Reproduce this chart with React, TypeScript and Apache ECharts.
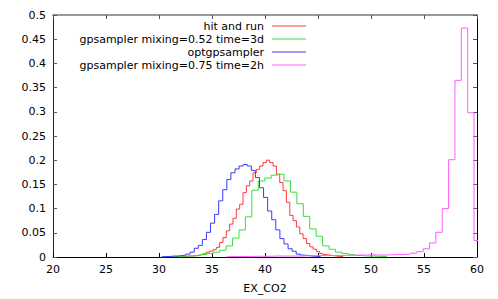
import React, { useEffect, useRef } from "react";
import * as echarts from "echarts";

const seriesNames = [
  "hit and run",
  "gpsampler mixing=0.52 time=3d",
  "optgpsampler",
  "gpsampler mixing=0.75 time=2h",
];
const seriesColors = ["#ff3a3a", "#3ade3a", "#3a3aff", "#ff5cff"];

const xName = "EX_CO2";
const xMin = 20;
const xMax = 60;
const xInterval = 5;
const yMin = 0;
const yMax = 0.5;
const yInterval = 0.05;

// hit and run: histogram bins (start, width, values)
const hitStart = 31.94;
const hitWidth = 0.315;
const hitValues = [
  0.001, 0.001, 0.002, 0.002, 0.003, 0.004, 0.005, 0.007,
  0.010, 0.012, 0.015, 0.020, 0.030, 0.040, 0.054, 0.068, 0.080, 0.099,
  0.109, 0.133, 0.147, 0.157, 0.174, 0.181, 0.188, 0.195, 0.200, 0.195,
  0.188, 0.171, 0.154, 0.137, 0.113, 0.086, 0.075, 0.062, 0.048, 0.038,
  0.028, 0.021, 0.016, 0.011, 0.007, 0.005, 0.004, 0.003, 0.002, 0.001, 0.001,
];

// gpsampler mixing=0.52 time=3d
const gp52Start = 30.259;
const gp52Width = 0.607;
const gp52Values = [
  0.001, 0.001, 0.001, 0.002, 0.002, 0.003, 0.005, 0.007, 0.010, 0.014,
  0.023, 0.039, 0.056,
  0.083, 0.138, 0.157, 0.163, 0.169, 0.171, 0.157, 0.134, 0.110, 0.084,
  0.058, 0.043, 0.023, 0.016, 0.010, 0.007, 0.005, 0.003, 0.002, 0.002, 0.001, 0.001,
];

// optgpsampler
const optStart = 30.24;
const optWidth = 0.385;
const optValues = [
  0.001, 0.001, 0.002, 0.002, 0.003, 0.004, 0.006, 0.010, 0.018, 0.024,
  0.036, 0.051, 0.070, 0.088, 0.116, 0.139, 0.160, 0.174, 0.182, 0.188,
  0.191, 0.188, 0.179, 0.164, 0.143, 0.123, 0.095, 0.077, 0.056, 0.038,
  0.027, 0.017, 0.012, 0.006, 0.004, 0.003, 0.002, 0.001, 0.001,
];

// gpsampler mixing=0.75 time=2h
const gp75Start = 36.32;
const gp75Width = 0.6;
const gp75Values = [
  0.001, 0.001, 0.001, 0.001, 0.0015, 0.0015, 0.0015, 0.002, 0.002, 0.002,
  0.002, 0.002, 0.0025, 0.0025, 0.003, 0.003, 0.003, 0.003, 0.0035, 0.0035,
  0.004, 0.004, 0.0045, 0.004, 0.004, 0.0045, 0.005, 0.005, 0.006, 0.008,
  0.011, 0.017, 0.029, 0.051, 0.100, 0.201, 0.365, 0.473, 0.298, 0.034,
];

const histograms = [
  { start: hitStart, width: hitWidth, values: hitValues },
  { start: gp52Start, width: gp52Width, values: gp52Values },
  { start: optStart, width: optWidth, values: optValues },
  { start: gp75Start, width: gp75Width, values: gp75Values },
];

function stepPoints(start: number, width: number, values: number[]) {
  const pts: number[][] = [[start, 0]];
  values.forEach((v, i) => {
    pts.push([start + i * width, v]);
    pts.push([start + (i + 1) * width, v]);
  });
  pts.push([start + values.length * width, 0]);
  return pts;
}

const FONT = '"DejaVu Sans", sans-serif';

export default function App() {
  const ref = useRef<HTMLDivElement>(null);
  useEffect(() => {
    if (!ref.current) return;
    const chart = echarts.init(ref.current, undefined, { renderer: "svg" });
    const gridLeft = 53;
    const gridTop = 15;
    const legendRight = 264;
    const legendTop = 26;
    const legendStep = 13;
    const graphic: any[] = [];
    seriesNames.forEach((name, i) => {
      const y = legendTop + i * legendStep;
      graphic.push({
        type: "text",
        x: legendRight,
        y,
        style: {
          text: name,
          fill: "#000",
          font: `11px ${FONT}`,
          textAlign: "right",
          textVerticalAlign: "middle",
        },
      });
      graphic.push({
        type: "line",
        shape: { x1: 272, y1: y, x2: 306, y2: y },
        style: { stroke: seriesColors[i], lineWidth: 1 },
      });
    });
    const tickStyle = { color: "#000", width: 1 };
    chart.setOption({
      animation: false,
      backgroundColor: "#fff",
      grid: { left: gridLeft, right: 21, top: gridTop, bottom: 41, containLabel: false },
      xAxis: [
        {
          type: "value",
          min: xMin,
          max: xMax,
          interval: xInterval,
          position: "bottom",
          name: xName,
          nameLocation: "middle",
          nameGap: 26,
          nameTextStyle: { color: "#000", fontSize: 11, fontFamily: FONT },
          axisLine: { onZero: false, lineStyle: { color: "#000", width: 1 } },
          axisTick: { inside: true, length: 4, lineStyle: tickStyle },
          axisLabel: { color: "#000", fontSize: 11, fontFamily: FONT, margin: 7 },
          splitLine: { show: false },
        },
        {
          type: "value",
          min: xMin,
          max: xMax,
          interval: xInterval,
          position: "top",
          axisLine: { onZero: false, lineStyle: { color: "#999", width: 2 } },
          axisTick: { inside: true, length: 4, lineStyle: { color: "#555", width: 1 } },
          axisLabel: { show: false },
          splitLine: { show: false },
        },
      ],
      yAxis: [
        {
          type: "value",
          min: yMin,
          max: yMax,
          interval: yInterval,
          position: "left",
          axisLine: { show: true, onZero: false, lineStyle: { color: "#222", width: 1 } },
          axisTick: { show: true, inside: true, length: 4, lineStyle: { color: "#555", width: 1 } },
          axisLabel: {
            color: "#000",
            fontSize: 11,
            fontFamily: FONT,
            margin: 7,
            formatter: (v: number) => String(parseFloat(v.toFixed(2))),
          },
          splitLine: { show: false },
        },
        {
          type: "value",
          min: yMin,
          max: yMax,
          interval: yInterval,
          position: "right",
          axisLine: { show: true, onZero: false, lineStyle: { color: "#000", width: 1 } },
          axisTick: { show: true, inside: true, length: 4, lineStyle: { color: "#555", width: 1 } },
          axisLabel: { show: false },
          splitLine: { show: false },
        },
      ],
      graphic,
      series: histograms.map((h, i) => ({
        type: "line",
        name: seriesNames[i],
        xAxisIndex: 0,
        yAxisIndex: 0,
        data: stepPoints(h.start, h.width, h.values),
        symbol: "none",
        showSymbol: false,
        clip: true,
        lineStyle: { color: seriesColors[i], width: 1 },
        itemStyle: { color: seriesColors[i] },
        z: 2 + i,
      })),
    });
    return () => chart.dispose();
  }, []);
  return (
    <div
      ref={ref}
      style={{ position: "absolute", left: 0, top: 0, width: 498, height: 299, background: "#fff" }}
    />
  );
}
